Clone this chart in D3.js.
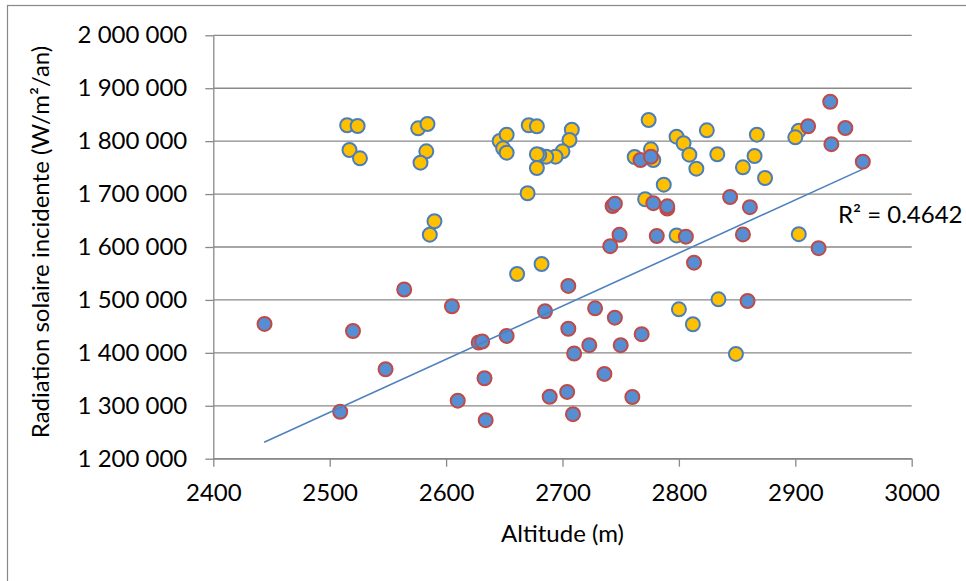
<!DOCTYPE html>
<html>
<head>
<meta charset="utf-8">
<script src="https://cdn.jsdelivr.net/npm/d3@7/dist/d3.min.js"></script>
<style>
  html, body { margin: 0; padding: 0; background: #fff; }
  svg { display: block; }
  text { font-family: Lato, "Noto Sans", sans-serif; fill: #000; }
</style>
</head>
<body>
<svg id="chart" width="966" height="581"></svg>
<script>
// ---- data ----
const xTicks = [2400, 2500, 2600, 2700, 2800, 2900, 3000];
const yTicks = [1200000, 1300000, 1400000, 1500000, 1600000, 1700000, 1800000, 1900000, 2000000];

// series drawn as yellow markers
const yellowAlt = [2515, 2524, 2517, 2526, 2576, 2584, 2583, 2578, 2590, 2586,
  2646, 2652, 2649, 2652, 2671, 2678, 2708, 2706, 2700, 2694, 2686, 2680, 2678, 2678, 2670,
  2774, 2762, 2776, 2778, 2787, 2771, 2798, 2804, 2809, 2815, 2824, 2833, 2867, 2865, 2855, 2874,
  2903, 2900, 2903, 2798, 2682, 2661, 2834, 2800, 2812, 2849];
const yellowRad = [1830000, 1828600, 1783300, 1767600, 1824300, 1832400, 1780800, 1759300, 1648600, 1623300,
  1800300, 1812200, 1786500, 1778200, 1830000, 1828100, 1821700, 1802200, 1780800, 1770600, 1770600, 1774000, 1775200, 1749300, 1701500,
  1840000, 1770100, 1784600, 1764400, 1717700, 1690200, 1808400, 1796000, 1774400, 1748000, 1820500, 1775200, 1812200, 1772000, 1750600, 1730400,
  1819800, 1807300, 1624200, 1621800, 1567900, 1549000, 1501200, 1482300, 1454000, 1397900];

// series drawn as blue markers
const blueAlt = [2444, 2520, 2564, 2548, 2509, 2605, 2610, 2628, 2631, 2633, 2634, 2652,
  2685, 2705, 2705, 2710, 2723, 2728, 2745, 2750, 2768, 2736, 2704, 2689, 2760, 2709,
  2743, 2745, 2749, 2741, 2778, 2790, 2790, 2781, 2806, 2767, 2776, 2844, 2861, 2855,
  2813, 2920, 2911, 2930, 2943, 2931, 2958, 2859];
const blueRad = [1454600, 1441300, 1519700, 1369000, 1288700, 1488000, 1309600, 1419600, 1421500, 1352000, 1272800, 1431900,
  1478600, 1526400, 1445500, 1398800, 1414500, 1484200, 1466500, 1414500, 1435300, 1360100, 1326100, 1317000, 1316600, 1284100,
  1677500, 1681800, 1623100, 1601600, 1682800, 1672800, 1676900, 1620800, 1619500, 1764400, 1770600, 1694500, 1675200, 1623700,
  1570400, 1597800, 1828100, 1874400, 1824900, 1794300, 1761200, 1498000];

// linear trend line of the blue series (end points)
const trendAlt = [2443.7, 2957.6];
const trendRad = [1231200, 1746700];

const rSquaredLabel = "R² = 0.4642";
const xTitle = "Altitude (m)";
const yTitle = "Radiation solaire incidente (W/m²/an)";

// ---- layout ----
const svg = d3.select("#chart");
const plot = { left: 213.3, right: 911.7, top: 35.3, bottom: 458.7 };
const gridColor = "#898989";

svg.append("rect").attr("width", 966).attr("height", 581).attr("fill", "#fff");
// chart area border (extends beyond the picture on the right and bottom)
svg.append("rect").attr("x", 7.5).attr("y", 5.5).attr("width", 1000).attr("height", 700)
  .attr("fill", "none").attr("stroke", "#888").attr("stroke-width", 1.2);

const x = d3.scaleLinear().domain([2400, 3000]).range([plot.left, plot.right]);
const y = d3.scaleLinear().domain([1200000, 2000000]).range([plot.bottom, plot.top]);

const locale = d3.formatLocale({ decimal: ",", thousands: " ", grouping: [3], currency: ["", ""] });
const fmt = locale.format(",");

// gridlines
svg.append("g").selectAll("line").data(yTicks).join("line")
  .attr("x1", plot.left).attr("x2", plot.right)
  .attr("y1", d => y(d)).attr("y2", d => y(d))
  .attr("stroke", gridColor).attr("stroke-width", 1.3);

// axes
const yAxis = svg.append("g").attr("transform", `translate(${plot.left},0)`)
  .call(d3.axisLeft(y).tickValues(yTicks).tickFormat(fmt).tickSize(8).tickSizeOuter(0).tickPadding(18));
const xAxis = svg.append("g").attr("transform", `translate(0,${plot.bottom})`)
  .call(d3.axisBottom(x).tickValues(xTicks).tickFormat(d3.format("d")).tickSize(8).tickSizeOuter(0).tickPadding(17));
[yAxis, xAxis].forEach(g => {
  g.selectAll("path.domain").attr("stroke", gridColor).attr("stroke-width", 1.3);
  g.selectAll(".tick line").attr("stroke", gridColor).attr("stroke-width", 1.3);
  g.selectAll(".tick text").attr("font-size", 24).attr("font-family", "Lato, sans-serif").attr("fill", "#000");
});

// markers
const yellowData = yellowAlt.map((a, i) => ({ a, r: yellowRad[i] }));
const blueData = blueAlt.map((a, i) => ({ a, r: blueRad[i] }));

svg.append("g").selectAll("circle").data(yellowData).join("circle")
  .attr("cx", d => x(d.a)).attr("cy", d => y(d.r)).attr("r", 7)
  .attr("fill", "#FFC000").attr("stroke", "#4A7EBB").attr("stroke-width", 2);

svg.append("g").selectAll("circle").data(blueData).join("circle")
  .attr("cx", d => x(d.a)).attr("cy", d => y(d.r)).attr("r", 7)
  .attr("fill", "#568ED4").attr("stroke", "#BE4B48").attr("stroke-width", 2);

// trend line
const trend = trendAlt.map((a, i) => ({ a, r: trendRad[i] }));
svg.append("path").datum(trend)
  .attr("d", d3.line().x(d => x(d.a)).y(d => y(d.r)))
  .attr("fill", "none").attr("stroke", "#4F81BD").attr("stroke-width", 1.6);

// R² label
svg.append("text").attr("x", 838).attr("y", 222.7).attr("font-size", 24).text(rSquaredLabel);

// axis titles
svg.append("text").attr("x", (plot.left + plot.right) / 2).attr("y", 541.7)
  .attr("text-anchor", "middle").attr("font-size", 24).text(xTitle);
svg.append("text").attr("transform", "translate(49.3,242) rotate(-90)")
  .attr("text-anchor", "middle").attr("font-size", 24).text(yTitle);
</script>
</body>
</html>
